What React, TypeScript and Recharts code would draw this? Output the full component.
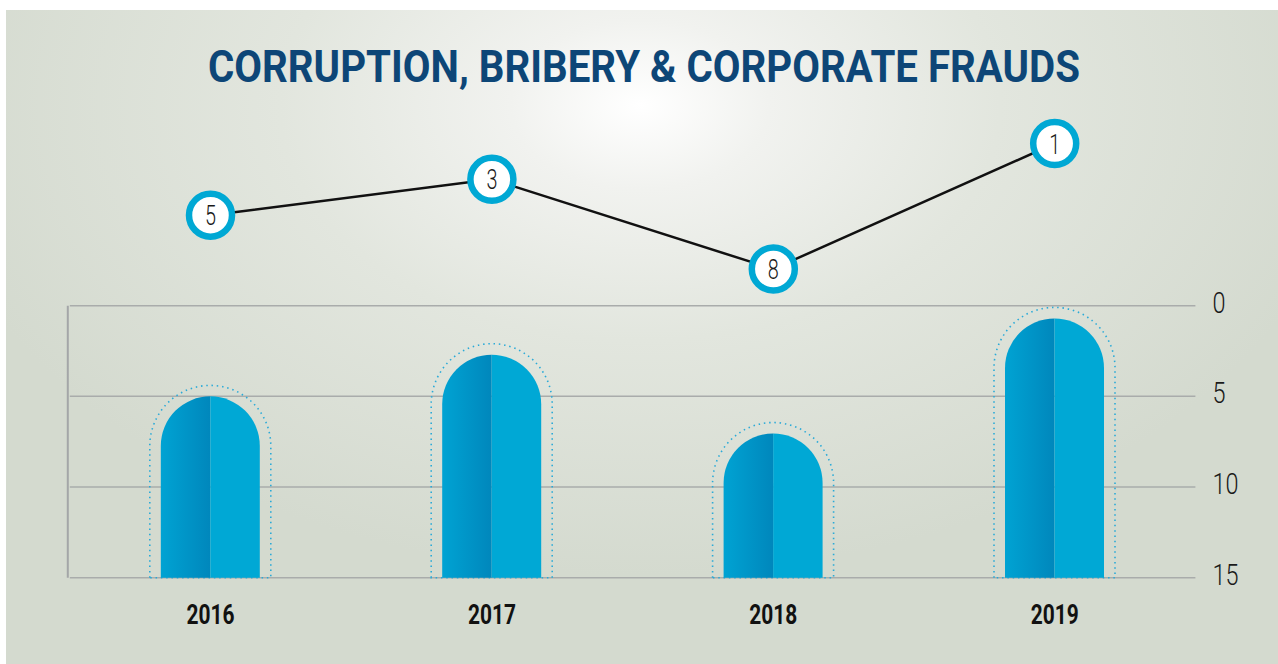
import React from 'react';
import { BarChart, Bar, LineChart, Line, XAxis, YAxis, CartesianGrid } from 'recharts';

// rank per year (circle labels) and the visible bar tops
const years = ['2016', '2017', '2018', '2019'];
const ranks = [5, 3, 8, 1];
const barTops = [5.0, 2.7, 7.05, 0.7];
const yTicks = [0, 5, 10, 15];

const W = 1272;
const H = 654;
const PLOT_LEFT = 63.8;
const PLOT_RIGHT = 82.6;
const PLOT_TOP = 295.7;
const PLOT_BOTTOM = 567.7;
const HALF_BAND = (W - PLOT_LEFT - PLOT_RIGHT) / years.length / 2;

const FONT = "Roboto, 'DejaVu Sans Condensed', sans-serif";

const data = years.map((year, i) => ({
  year,
  rank: ranks[i],
  bar: [15, barTops[i]],
}));

const PillBar = (props: any) => {
  const { x, y, width, height } = props;
  const top = Math.min(y, y + height);
  const bottom = Math.max(y, y + height);
  const r = width / 2;
  const d = 11;
  const R = r + d;
  const left = `M${x},${bottom} L${x},${top + r} A${r},${r} 0 0 1 ${x + r},${top} L${x + r},${bottom} Z`;
  const right = `M${x + r},${bottom} L${x + r},${top} A${r},${r} 0 0 1 ${x + width},${top + r} L${x + width},${bottom} Z`;
  const outline = `M${x - d},${bottom} L${x - d},${top + r} A${R},${R} 0 0 1 ${x + width + d},${top + r} L${x + width + d},${bottom} Z`;
  return (
    <g>
      <path d={outline} fill="none" stroke="#2aaad8" strokeWidth={1.6} strokeDasharray="1.5 3.8" />
      <path d={left} fill="url(#leftHalf)" />
      <path d={right} fill="#00a8d5" />
    </g>
  );
};

const RankDot = (props: any) => {
  const { cx, cy, payload } = props;
  return (
    <g key={payload.year}>
      <circle cx={cx} cy={cy} r={21.5} fill="#ffffff" stroke="#00a8d4" strokeWidth={6.5} />
      <text
        x={cx}
        y={cy + 10}
        textAnchor="middle"
        fontSize={28}
        fontWeight={300}
        fontFamily={FONT}
        fill="#1a1a1a"
        textLength={11}
        lengthAdjust="spacingAndGlyphs"
      >
        {payload.rank}
      </text>
    </g>
  );
};

const YearTick = (props: any) => {
  const { x, payload } = props;
  return (
    <text
      x={x}
      y={PLOT_BOTTOM + 46}
      textAnchor="middle"
      fontSize={28}
      fontWeight="bold"
      fontFamily={FONT}
      fill="#111"
      textLength={48}
      lengthAdjust="spacingAndGlyphs"
    >
      {payload.value}
    </text>
  );
};

const RightTick = (props: any) => {
  const { y, payload } = props;
  const label = String(payload.value);
  return (
    <text
      x={W - PLOT_RIGHT + 17}
      y={y + 7}
      textAnchor="start"
      fontSize={30}
      fontWeight={300}
      fontFamily={FONT}
      fill="#1a1a1a"
      textLength={label.length * 13}
      lengthAdjust="spacingAndGlyphs"
    >
      {label}
    </text>
  );
};

export default function App() {
  return (
    <div
      style={{
        position: 'absolute',
        left: 6,
        top: 10,
        width: W,
        height: H,
        overflow: 'hidden',
        background:
          'radial-gradient(ellipse 720px 470px at 634px 95px, #ffffff 0%, #f1f2ef 18%, #e2e6de 50%, #d4dacf 100%)',
      }}
    >
      <svg width={W} height={120} style={{ position: 'absolute', left: 0, top: 0 }}>
        <text
          x={202}
          y={72}
          textLength={872}
          lengthAdjust="spacingAndGlyphs"
          fontSize={44}
          fontWeight="bold"
          fontFamily={FONT}
          fill="#0d4677"
        >
          CORRUPTION, BRIBERY &amp; CORPORATE FRAUDS
        </text>
      </svg>

      <div style={{ position: 'absolute', left: 0, top: 0 }}>
        <BarChart
          width={W}
          height={H}
          data={data}
          margin={{ top: PLOT_TOP, right: 0, bottom: 0, left: PLOT_LEFT }}
          barCategoryGap={0}
        >
          <defs>
            <linearGradient id="leftHalf" x1="0" y1="0" x2="1" y2="0">
              <stop offset="0%" stopColor="#00a3d3" />
              <stop offset="100%" stopColor="#0087bc" />
            </linearGradient>
          </defs>
          <CartesianGrid vertical={false} stroke="#a9acab" strokeWidth={1.5} />
          <CartesianGrid
            horizontal={false}
            stroke="#a4a6a8"
            strokeWidth={2}
            verticalCoordinatesGenerator={({ offset }: any) => [offset.left - 2]}
          />
          <XAxis
            dataKey="year"
            height={H - PLOT_BOTTOM}
            axisLine={false}
            tickLine={false}
            tick={<YearTick />}
          />
          <YAxis
            orientation="right"
            width={PLOT_RIGHT}
            domain={[0, 15]}
            ticks={yTicks}
            reversed
            axisLine={false}
            tickLine={false}
            tick={<RightTick />}
          />
          <Bar dataKey="bar" barSize={99} shape={<PillBar />} isAnimationActive={false} />
        </BarChart>
      </div>

      <div style={{ position: 'absolute', left: 0, top: 0, pointerEvents: 'none' }}>
        <LineChart
          width={W}
          height={H}
          data={data}
          margin={{ top: 133.5, right: PLOT_RIGHT, bottom: H - 259, left: PLOT_LEFT }}
        >
          <XAxis dataKey="year" hide padding={{ left: HALF_BAND, right: HALF_BAND }} />
          <YAxis hide domain={[1, 8]} reversed />
          <Line
            dataKey="rank"
            stroke="#111111"
            strokeWidth={2.5}
            dot={<RankDot />}
            activeDot={false}
            isAnimationActive={false}
          />
        </LineChart>
      </div>
    </div>
  );
}
